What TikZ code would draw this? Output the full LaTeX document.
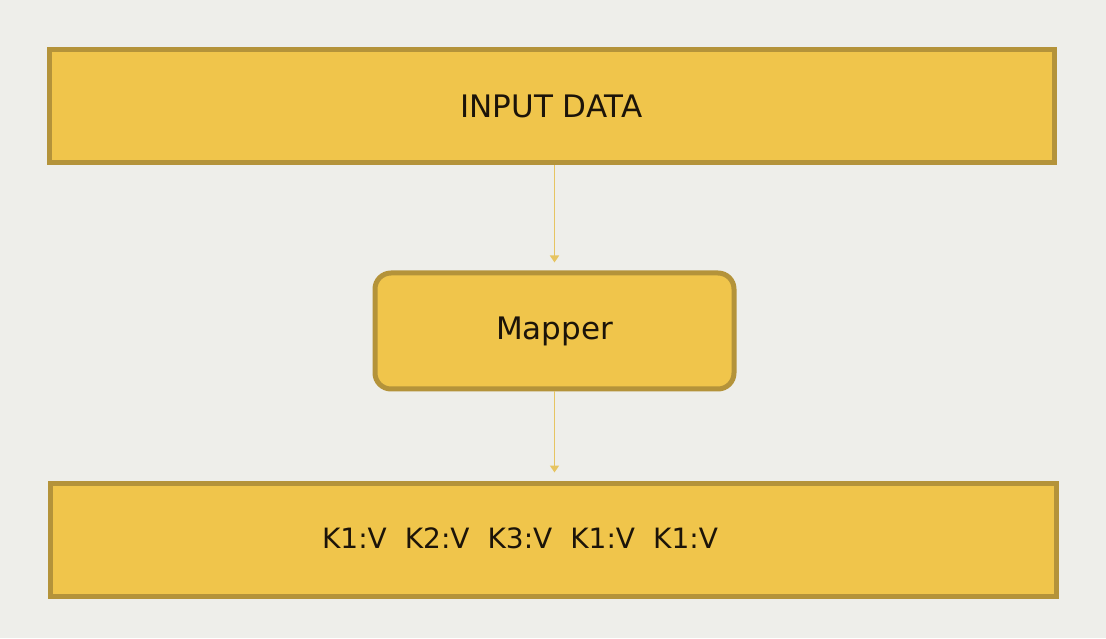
\documentclass[tikz,border=0pt]{standalone}
\usepackage{fontspec}
\setmainfont{DejaVu Sans}
\usetikzlibrary{arrows.meta}
\definecolor{bg}{HTML}{EEEEEA}
\definecolor{boxfill}{HTML}{F0C54B}
\definecolor{boxline}{HTML}{B4933A}
\definecolor{arrowc}{HTML}{E6C461}
\definecolor{txt}{HTML}{1C1409}
\tikzset{
  box/.style={draw=boxline, line width=5pt, fill=boxfill, inner sep=0pt, text=txt},
  flow/.style={draw=arrowc, line width=1.5pt, -{Triangle[width=9pt,length=7pt]}, shorten >=8pt}
}
\begin{document}
\begin{tikzpicture}[x=1pt,y=1pt]
\useasboundingbox[fill=bg] (0,0) rectangle (1106,638);
% top box
\node[box, minimum width=1005pt, minimum height=113pt, font=\fontsize{31}{38}\selectfont] (input) at (551.5,531.5) {INPUT DATA};
% mapper
\node[box, rounded corners=16pt, minimum width=359pt, minimum height=116pt, font=\fontsize{31}{38}\selectfont] (mapper) at (554.5,307) {Mapper};
% bottom box
\node[box, minimum width=1006pt, minimum height=113pt] (output) at (553,98.5) {};
\node[text=txt, font=\fontsize{28}{34}\selectfont, inner sep=0pt] (kv) at (520,100) {K1:V\hspace{18pt}K2:V\hspace{18pt}K3:V\hspace{18pt}K1:V\hspace{18pt}K1:V};
% arrows
\draw[flow] (input.south -| mapper.north) -- (mapper.north);
\draw[flow] (mapper.south) -- (mapper.south |- output.north);
\end{tikzpicture}
\end{document}
